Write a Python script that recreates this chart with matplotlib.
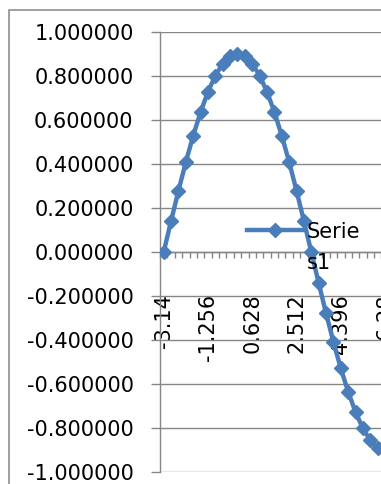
import numpy as np
import matplotlib
matplotlib.use("Agg")
import matplotlib.pyplot as plt
from matplotlib.ticker import FixedLocator, FuncFormatter, NullFormatter
from matplotlib.patches import Rectangle
from matplotlib.legend_handler import HandlerLine2D

# Category axis (x) and the series values
categories = [-3.14, -2.826, -2.512, -2.198, -1.884, -1.57, -1.256, -0.942, -0.628, -0.314,
              0.0, 0.314, 0.628, 0.942, 1.256, 1.57, 1.884, 2.198, 2.512, 2.826,
              3.14, 3.454, 3.768, 4.082, 4.396, 4.71, 5.024, 5.338, 5.652, 5.966,
              6.28, 6.594, 6.908, 7.222, 7.536, 7.85, 8.164, 8.478, 8.792, 9.106, 9.42]
series1 = [0.000, 0.141, 0.278, 0.409, 0.529, 0.636, 0.728, 0.802, 0.856, 0.889,
           0.900, 0.889, 0.856, 0.802, 0.728, 0.636, 0.529, 0.409, 0.278, 0.141,
           0.000, -0.141, -0.278, -0.409, -0.529, -0.636, -0.728, -0.802, -0.856, -0.889,
           -0.900, -0.889, -0.856, -0.802, -0.728, -0.636, -0.529, -0.409, -0.278, -0.141,
           0.000]
series_name = "Serie\ns1"
y_ticks = [-1.0, -0.8, -0.6, -0.4, -0.2, 0.0, 0.2, 0.4, 0.6, 0.8, 1.0]
label_every = 6

W, H, DPI = 381, 484, 100
BLUE = "#4a7ebb"
GRAY = "#868686"
FS = 15
LINESPACING = 1.7

plt.rcParams["font.family"] = ["DejaVu Sans"]
plt.rcParams["mathtext.fontset"] = "dejavuserif"


class FirstLineHandler(HandlerLine2D):
    """Legend key aligned with the first line of a wrapped label."""

    def __init__(self, shift, **kw):
        super().__init__(**kw)
        self.shift = shift

    def create_artists(self, legend, orig_handle, xdescent, ydescent, width, height,
                       fontsize, trans):
        arts = super().create_artists(legend, orig_handle, xdescent, ydescent, width,
                                      height, fontsize, trans)
        for a in arts:
            a.set_ydata(np.asarray(a.get_ydata()) + self.shift * fontsize)
        return arts


fig = plt.figure(figsize=(W / DPI, H / DPI), dpi=DPI)

# outer chart frame
fig.patches.append(Rectangle((9 / W, -0.2), 2.0, 1.2 - 10 / H, transform=fig.transFigure,
                             fill=False, edgecolor=GRAY, linewidth=1.1))

# equation line above the chart
fig.text(114 / W, 1 + 5.5 / H, r"$(x)\ \ =\ \ y$", fontsize=17, va="baseline", ha="left")

n = len(categories)
cell = 7.38
ax = fig.add_axes([160 / W, 12 / H, n * cell / W, 440 / H])
idx = np.arange(n)

ax.set_xlim(-0.5, n - 0.5)
ax.set_ylim(-1.0, 1.0)

line, = ax.plot(idx, series1, color=BLUE, linewidth=3.2, marker="D", markersize=7.2,
                markeredgecolor=BLUE, markerfacecolor=BLUE, label=series_name, zorder=3)

# value axis
ax.yaxis.set_major_locator(FixedLocator(y_ticks))
ax.yaxis.set_major_formatter(FuncFormatter(lambda v, p: f"{v:.6f}".replace("\u2212", "-")))
ax.tick_params(axis="y", which="major", direction="out", length=6.5, width=1.0,
               color=GRAY, pad=12.5, labelsize=FS, labelcolor="black")
ax.yaxis.grid(True, color=GRAY, linewidth=1.0)
ax.set_axisbelow(True)

# category axis crossing at zero
for s in ("top", "right"):
    ax.spines[s].set_visible(False)
ax.spines["left"].set_color(GRAY)
ax.spines["left"].set_linewidth(1.0)
ax.spines["bottom"].set_position(("data", 0))
ax.spines["bottom"].set_color(GRAY)
ax.spines["bottom"].set_linewidth(1.0)

ax.xaxis.set_major_locator(FixedLocator(idx[::label_every]))
ax.set_xticklabels([f"{c:g}" for c in categories[::label_every]], rotation=90)
ax.xaxis.set_minor_locator(FixedLocator(np.arange(-0.5, n, 1.0)))
ax.xaxis.set_minor_formatter(NullFormatter())
ax.tick_params(axis="x", which="major", length=0, pad=30, labelsize=FS)
ax.tick_params(axis="x", which="minor", direction="out", length=4.5, width=1.0, color=GRAY)

leg = ax.legend(loc="upper left", bbox_to_anchor=(247 / W, 1 - 222 / H),
                bbox_transform=fig.transFigure, frameon=False, fontsize=FS,
                borderpad=0, borderaxespad=0, handlelength=2.7, handletextpad=0.15,
                handler_map={line: FirstLineHandler(0.86, numpoints=1)})
for t in leg.get_texts():
    t.set_linespacing(LINESPACING)

fig.savefig("out.png", dpi=DPI)
